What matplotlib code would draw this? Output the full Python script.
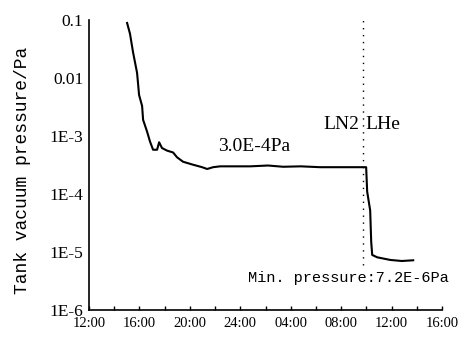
import matplotlib
matplotlib.use("Agg")
import matplotlib.pyplot as plt
import numpy as np

# hours after 12:00 on the first day, tank pressure in Pa
t_hours = [3.02, 3.25, 3.49, 3.81, 3.89, 3.97, 4.21, 4.29, 4.60, 4.84,
           5.08, 5.40, 5.56, 5.79, 6.19, 6.67, 6.98, 7.46, 8.25, 8.97,
           9.37, 9.84, 10.40, 11.75, 12.78, 14.2, 15.40, 16.8, 18.33, 20.5,
           21.98, 22.06, 22.30, 22.38, 22.46, 22.86, 23.89, 24.8, 25.71]
pressure = [0.089, 0.058, 0.028, 0.0123, 0.0080, 0.0051, 0.0033, 0.0019, 0.0012, 8.0e-4,
            5.8e-4, 5.8e-4, 7.8e-4, 6.2e-4, 5.6e-4, 5.2e-4, 4.3e-4, 3.6e-4, 3.2e-4, 2.9e-4,
            2.7e-4, 2.9e-4, 3.0e-4, 3.0e-4, 3.0e-4, 3.1e-4, 2.95e-4, 3.0e-4, 2.9e-4, 2.9e-4,
            2.9e-4, 1.1e-4, 5.2e-5, 1.5e-5, 8.9e-6, 8.1e-6, 7.3e-6, 7.0e-6, 7.2e-6]

x_ticks = [0, 4, 8, 12, 16, 20, 24, 28]
x_labels = ["12:00", "16:00", "20:00", "24:00", "04:00", "08:00", "12:00", "16:00"]
y_ticks = [1e-6, 1e-5, 1e-4, 1e-3, 1e-2, 1e-1]
y_labels = ["1E-6", "1E-5", "1E-4", "1E-3", "0.01", "0.1"]
t_switch = 21.75  # LN2 -> LHe

fig = plt.figure(figsize=(4.67, 3.37), dpi=100)
ax = fig.add_axes([0.1906, 0.0801, 0.756, 0.8605])

ax.plot(t_hours, pressure, color="black", lw=1.5)
ax.vlines(t_switch, 6e-6, 0.1, colors="black", linestyles=(0, (1, 4)), lw=1.0)

ax.set_yscale("log")
ax.set_xlim(0, 28)
ax.set_ylim(1e-6, 0.1)

ax.set_xticks(x_ticks)
ax.set_xticklabels(x_labels, family="Liberation Serif", fontsize=10.5)
ax.set_xticks(np.arange(0, 29, 2), minor=True)
ax.tick_params(axis="x", which="both", direction="in", length=3, width=1, pad=5)

ax.set_yticks(y_ticks)
ax.set_yticklabels(y_labels, family="Liberation Serif", fontsize=12.5)
ax.yaxis.set_minor_locator(matplotlib.ticker.NullLocator())
ax.tick_params(axis="y", length=0, pad=4)

for s in ["top", "right"]:
    ax.spines[s].set_visible(False)
for s in ["left", "bottom"]:
    ax.spines[s].set_linewidth(1.2)

ax.set_ylabel("Tank vacuum pressure/Pa", family="Liberation Mono", fontsize=13)
ax.yaxis.set_label_coords(-0.165, 0.48)

ax.text(13.1, 6.7e-4, "3.0E-4Pa", family="Liberation Serif", fontsize=14, ha="center", va="center")
ax.text(t_switch - 0.3, 1.6e-3, "LN2", family="Liberation Serif", fontsize=14, ha="right", va="center")
ax.text(t_switch + 0.2, 1.6e-3, "LHe", family="Liberation Serif", fontsize=14, ha="left", va="center")
ax.text(20.6, 3.5e-6, "Min. pressure:7.2E-6Pa", family="Liberation Mono", fontsize=11, ha="center", va="center")

fig.savefig("out.png", dpi=100)
